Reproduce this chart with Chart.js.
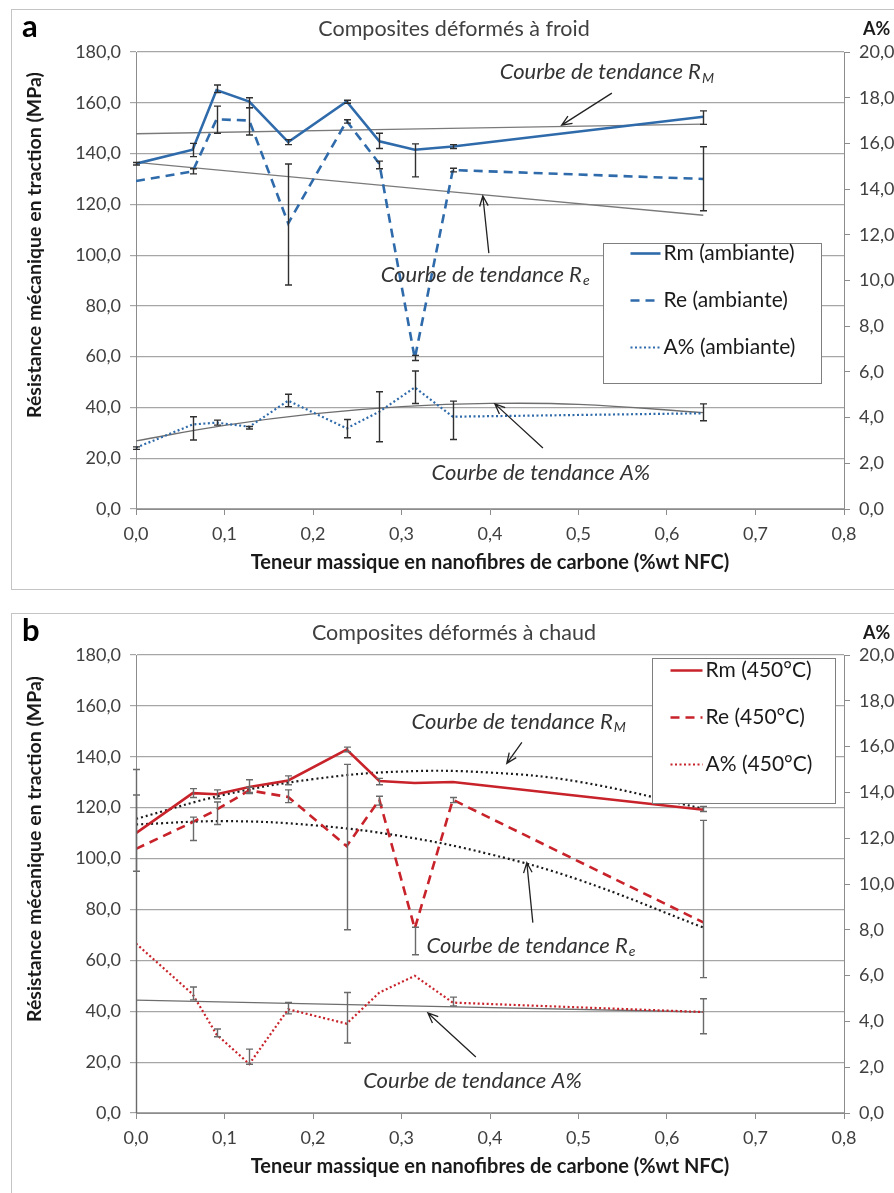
<!DOCTYPE html>
<html lang="fr">
<head>
<meta charset="utf-8">
<script src="https://cdn.jsdelivr.net/npm/chart.js@4.4.1/dist/chart.umd.min.js"></script>
<style>
  html, body { margin: 0; background: #fff; overflow: hidden; }
  .panel { position: absolute; left: 11px; width: 900px; height: 579px; border: 1px solid #c4c4c4; background: #fff; }
  .panel canvas { display: block; }
  #pa { top: 9px; }
  #pb { top: 613px; }
</style>
</head>
<body>
<div class="panel" id="pa"><canvas id="chart-a" width="900" height="579"></canvas></div>
<div class="panel" id="pb"><canvas id="chart-b" width="900" height="579"></canvas></div>
<script>
// teneur massique en NFC (%wt)
const nfc = [0, 0.064, 0.091, 0.128, 0.172, 0.238, 0.275, 0.315, 0.358, 0.641];

// (a) composites déformés à froid - Rm, Re en MPa, A% en %
const rmFroid = [136.0, 141.5, 165.0, 160.5, 144.5, 160.5, 144.8, 141.5, 142.8, 154.5];
const rmFroidLow = [135.5, 138.8, 164.0, 158.0, 143.5, 159.8, 142.0, 130.8, 142.0, 151.5];
const rmFroidHigh = [136.5, 144.0, 167.0, 162.0, 145.5, 161.0, 148.0, 143.8, 143.5, 156.8];
const reFroid = [129.2, 133.0, 153.5, 153.0, 112.5, 152.8, 136.0, 59.3, 133.5, 130.0];
const reFroidLow = [null, 132.0, 148.0, 147.3, 88.2, 152.0, 134.0, 58.5, 132.8, 117.5];
const reFroidHigh = [null, 134.0, 158.7, 158.1, 135.9, 153.3, 137.0, 60.5, 134.2, 142.7];
const aFroid = [2.68, 3.70, 3.78, 3.60, 4.74, 3.53, 4.26, 5.32, 4.04, 4.19];
const aFroidLow = [2.61, 3.02, 3.67, 3.50, 4.48, 3.12, 2.94, 4.62, 3.04, 3.86];
const aFroidHigh = [2.72, 4.04, 3.89, 3.61, 5.02, 3.92, 5.13, 6.04, 4.72, 4.60];

// (b) composites déformés à chaud (450°C)
const rmChaud = [110.0, 125.7, 125.3, 128.1, 130.7, 142.8, 130.5, 129.7, 130.1, 119.2];
const rmChaudLow = [95.0, 124.0, 123.5, 126.0, 129.0, 142.0, 129.0, null, null, 118.5];
const rmChaudHigh = [125.0, 127.5, 127.0, 131.0, 132.5, 143.8, 131.5, null, null, 120.5];
const reChaud = [103.8, 114.3, 119.2, 126.8, 124.2, 104.9, 123.1, 72.5, 123.1, 74.9];
const reChaudLow = [null, 107.1, 113.4, 125.5, 122.0, 72.0, 121.0, 62.2, 122.0, 53.2];
const reChaudHigh = [null, 116.3, 122.2, 128.0, 127.0, 137.0, 124.5, 73.0, 124.0, 115.0];
const aChaud = [7.40, 5.19, 3.43, 2.14, 4.53, 3.90, 5.26, 5.99, 4.82, 4.41];
const aChaudLow = [0, 4.94, 3.33, 2.13, 4.33, 3.06, null, null, 4.67, 3.46];
const aChaudHigh = [15.0, 5.50, 3.67, 2.79, 4.83, 5.26, null, null, 5.06, 4.99];

// courbes de tendance
const trendX = [0, 0.1, 0.2, 0.3, 0.4, 0.5, 0.641];
const trendLinX = [0, 0.641];
const rmFroidTrend = [147.8, 151.6];
const reFroidTrend = [136.5, 115.7];
const aFroidTrend = [2.98, 3.66, 4.16, 4.48, 4.62, 4.58, 4.22];
const rmChaudTrend = [115.6, 125.1, 131.2, 134.2, 133.8, 130.2, 119.6];
const reChaudTrend = [113.4, 114.7, 113.1, 108.8, 101.7, 91.7, 72.9];
const aChaudTrend = [4.93, 4.41];

const blue = "#2f6bab";
const red = "#c8222a";
const FONT = "Lato";

const fmt = (v) => v.toFixed(1).replace(".", ",");
const pts = (xs, ys) => xs.map((x, i) => ({ x: x, y: ys[i] }));

function arrow(ctx, x1, y1, x2, y2) {
  const ang = Math.atan2(y2 - y1, x2 - x1);
  ctx.beginPath();
  ctx.moveTo(x1, y1);
  ctx.lineTo(x2, y2);
  ctx.moveTo(x2 - 11 * Math.cos(ang - 0.4), y2 - 11 * Math.sin(ang - 0.4));
  ctx.lineTo(x2, y2);
  ctx.lineTo(x2 - 11 * Math.cos(ang + 0.4), y2 - 11 * Math.sin(ang + 0.4));
  ctx.stroke();
}

// error bars, titles, notes and the boxed legend
const decor = {
  id: "decor",
  afterDatasetsDraw(chart, args, o) {
    const { ctx, chartArea, scales } = chart;
    ctx.save();
    ctx.strokeStyle = o.errColor;
    ctx.lineWidth = 1.4;
    chart.data.datasets.forEach((ds) => {
      if (!ds.errLow) return;
      const sy = scales[ds.yAxisID];
      ds.errLow.forEach((lo, i) => {
        if (lo == null) return;
        const px = Math.round(scales.x.getPixelForValue(ds.data[i].x)) + 0.5;
        const top = sy.getPixelForValue(ds.errHigh[i]);
        const bot = Math.min(sy.getPixelForValue(lo), chartArea.bottom);
        ctx.beginPath();
        ctx.moveTo(px, top);
        ctx.lineTo(px, bot);
        ctx.moveTo(px - 3.5, top);
        ctx.lineTo(px + 3.5, top);
        if (bot < chartArea.bottom) {
          ctx.moveTo(px - 3.5, bot);
          ctx.lineTo(px + 3.5, bot);
        }
        ctx.stroke();
      });
    });
    ctx.restore();
  },
  afterDraw(chart, args, o) {
    const { ctx, chartArea: ca, scales } = chart;
    const sx = scales.x, sy = scales.y;
    ctx.save();
    ctx.textBaseline = "middle";

    ctx.fillStyle = "#000";
    ctx.font = "bold 31px " + FONT;
    ctx.textAlign = "left";
    ctx.fillText(o.letter, 10, 17);

    ctx.fillStyle = "#404040";
    ctx.font = "21.5px " + FONT;
    ctx.textAlign = "center";
    ctx.fillText(o.title, ca.left + 318, 19);

    ctx.fillStyle = "#1a1a1a";
    ctx.font = "bold 18px " + FONT;
    ctx.textAlign = "left";
    ctx.fillText("A%", ca.right + 19, 19);

    ctx.save();
    ctx.translate(23, 235);
    ctx.rotate(-Math.PI / 2);
    ctx.textAlign = "center";
    ctx.font = "bold 19.5px " + FONT;
    ctx.fillText("Résistance mécanique en traction (MPa)", 0, 0);
    ctx.restore();

    // annotations "Courbe de tendance"
    ctx.strokeStyle = "#222";
    ctx.lineWidth = 1.3;
    o.notes.forEach((n) => {
      const x = sx.getPixelForValue(n.x), y = sy.getPixelForValue(n.y);
      ctx.fillStyle = "#333";
      ctx.font = "italic 22px " + FONT;
      ctx.textAlign = "left";
      ctx.fillText(n.text, x, y);
      if (n.sub) {
        const w = ctx.measureText(n.text).width;
        ctx.font = "italic 14px " + FONT;
        ctx.fillText(n.sub, x + w + 1, y + 6);
      }
      arrow(ctx,
        sx.getPixelForValue(n.from[0]), sy.getPixelForValue(n.from[1]),
        sx.getPixelForValue(n.to[0]), sy.getPixelForValue(n.to[1]));
    });

    // legend box
    const L = o.legend;
    const bx = Math.round(ca.left + L.dx) + 0.5, by = Math.round(ca.top + L.dy) + 0.5;
    ctx.fillStyle = "#fff";
    ctx.fillRect(bx, by, L.w, L.h);
    ctx.strokeStyle = "#7f7f7f";
    ctx.lineWidth = 1;
    ctx.strokeRect(bx, by, L.w, L.h);
    chart.data.datasets.slice(0, 3).forEach((ds, i) => {
      const ly = by + L.rowTop + i * L.rowGap;
      ctx.beginPath();
      ctx.setLineDash(ds.borderDash || []);
      ctx.strokeStyle = ds.borderColor;
      ctx.lineWidth = ds.borderWidth;
      ctx.moveTo(bx + L.lineX, ly);
      ctx.lineTo(bx + L.lineX + L.lineW, ly);
      ctx.stroke();
      ctx.setLineDash([]);
      ctx.fillStyle = "#1a1a1a";
      ctx.font = "21px " + FONT;
      ctx.fillText(ds.label, bx + L.lineX + L.lineW + 3, ly);
    });
    ctx.restore();
  },
};

function makeChart(id, cfg) {
  const s = cfg.series;
  const datasets = [
    { label: s[0].label, data: pts(nfc, s[0].data), errLow: s[0].low, errHigh: s[0].high,
      borderColor: cfg.color, borderWidth: 2.6, yAxisID: "y", order: 1 },
    { label: s[1].label, data: pts(nfc, s[1].data), errLow: s[1].low, errHigh: s[1].high,
      borderColor: cfg.color, borderWidth: 2.6, borderDash: [9, 6], yAxisID: "y", order: 2 },
    { label: s[2].label, data: pts(nfc, s[2].data), errLow: s[2].low, errHigh: s[2].high,
      borderColor: cfg.color, borderWidth: 2.2, borderDash: [2, 2.5], yAxisID: "y2", order: 3 },
    { label: "tendance Rm", data: pts(cfg.rmTrend.x, cfg.rmTrend.y), borderColor: cfg.trendColor,
      borderWidth: cfg.trendWidth, borderDash: cfg.trendDash, tension: 0.4, yAxisID: "y", order: 4 },
    { label: "tendance Re", data: pts(cfg.reTrend.x, cfg.reTrend.y), borderColor: cfg.trendColor,
      borderWidth: cfg.trendWidth, borderDash: cfg.trendDash, tension: 0.4, yAxisID: "y", order: 5 },
    { label: "tendance A%", data: pts(cfg.aTrend.x, cfg.aTrend.y), borderColor: "#6e6e6e",
      borderWidth: 1.3, tension: 0.4, yAxisID: "y2", order: 6 },
  ];

  return new Chart(document.getElementById(id), {
    type: "line",
    data: { datasets: datasets },
    options: {
      responsive: false,
      animation: false,
      devicePixelRatio: 1,
      events: [],
      elements: { point: { radius: 0 }, line: { fill: false } },
      layout: { padding: { top: cfg.top, left: 0, right: 0, bottom: 0 } },
      scales: {
        x: {
          type: "linear", min: 0, max: 0.8,
          afterFit: (sc) => { sc.height = 80; },
          ticks: { stepSize: 0.1, padding: 8, color: "#404040", font: { family: FONT, size: 18 },
            callback: (v) => fmt(v) },
          grid: { drawOnChartArea: false, tickLength: 6, color: "#8c8c8c" },
          border: { color: "#8c8c8c" },
          title: { display: true, text: "Teneur massique en nanofibres de carbone (%wt NFC)",
            color: "#1a1a1a", font: { family: FONT, size: 20, weight: "bold" },
            padding: { top: 0, bottom: 14 } },
        },
        y: {
          position: "left", min: 0, max: 180,
          afterFit: (sc) => { sc.width = 124; },
          ticks: { stepSize: 20, padding: 9, color: "#404040", font: { family: FONT, size: 18 },
            callback: (v) => fmt(v) },
          grid: { color: "#a6a6a6", tickLength: 6, lineWidth: 1.2 },
          border: { color: "#8c8c8c" },
        },
        y2: {
          position: "right", min: 0, max: 20,
          afterFit: (sc) => { sc.width = 68; },
          ticks: { stepSize: 2, padding: 9, color: "#404040", font: { family: FONT, size: 18 },
            callback: (v) => fmt(v) },
          grid: { drawOnChartArea: false, tickLength: 6, color: "#8c8c8c" },
          border: { color: "#8c8c8c" },
        },
      },
      plugins: {
        legend: { display: false },
        tooltip: { enabled: false },
        decor: {
          letter: cfg.letter,
          title: cfg.title,
          errColor: cfg.errColor,
          notes: cfg.notes,
          legend: cfg.legend,
        },
      },
    },
    plugins: [decor],
  });
}

makeChart("chart-a", {
  letter: "a",
  title: "Composites déformés à froid",
  top: 42,
  color: blue,
  errColor: "#303030",
  trendColor: "#7a7a7a",
  trendWidth: 1.3,
  trendDash: [],
  series: [
    { label: "Rm (ambiante)", data: rmFroid, low: rmFroidLow, high: rmFroidHigh },
    { label: "Re (ambiante)", data: reFroid, low: reFroidLow, high: reFroidHigh },
    { label: "A% (ambiante)", data: aFroid, low: aFroidLow, high: aFroidHigh },
  ],
  rmTrend: { x: trendLinX, y: rmFroidTrend },
  reTrend: { x: trendLinX, y: reFroidTrend },
  aTrend: { x: trendX, y: aFroidTrend },
  notes: [
    { text: "Courbe de tendance R", sub: "M", x: 0.411, y: 172.1, from: [0.5377, 163.8], to: [0.481, 151.2] },
    { text: "Courbe de tendance R", sub: "e", x: 0.2765, y: 92.2, from: [0.3987, 100.8], to: [0.3919, 123.3] },
    { text: "Courbe de tendance A%", x: 0.334, y: 14.3, from: [0.4598, 24.0], to: [0.4055, 41.4] },
  ],
  legend: { dx: 467, dy: 191, w: 218, h: 140, lineX: 27, lineW: 30, rowTop: 10, rowGap: 47 },
});

makeChart("chart-b", {
  letter: "b",
  title: "Composites déformés à chaud",
  top: 41,
  color: red,
  errColor: "#6a6a6a",
  trendColor: "#1a1a1a",
  trendWidth: 2.2,
  trendDash: [2, 3],
  series: [
    { label: "Rm (450°C)", data: rmChaud, low: rmChaudLow, high: rmChaudHigh },
    { label: "Re (450°C)", data: reChaud, low: reChaudLow, high: reChaudHigh },
    { label: "A% (450°C)", data: aChaud, low: aChaudLow, high: aChaudHigh },
  ],
  rmTrend: { x: trendX, y: rmChaudTrend },
  reTrend: { x: trendX, y: reChaudTrend },
  aTrend: { x: trendLinX, y: aChaudTrend },
  notes: [
    { text: "Courbe de tendance R", sub: "M", x: 0.3114, y: 153.7, from: [0.436, 145.7], to: [0.419, 137.4] },
    { text: "Courbe de tendance R", sub: "e", x: 0.3283, y: 65.7, from: [0.4484, 74.8], to: [0.4416, 98.4] },
    { text: "Courbe de tendance A%", x: 0.2567, y: 12.8, from: [0.384, 22.0], to: [0.3298, 39.3] },
  ],
  legend: { dx: 516, dy: 3, w: 183, h: 145, lineX: 18, lineW: 32, rowTop: 12, rowGap: 47 },
});
</script>
</body>
</html>
